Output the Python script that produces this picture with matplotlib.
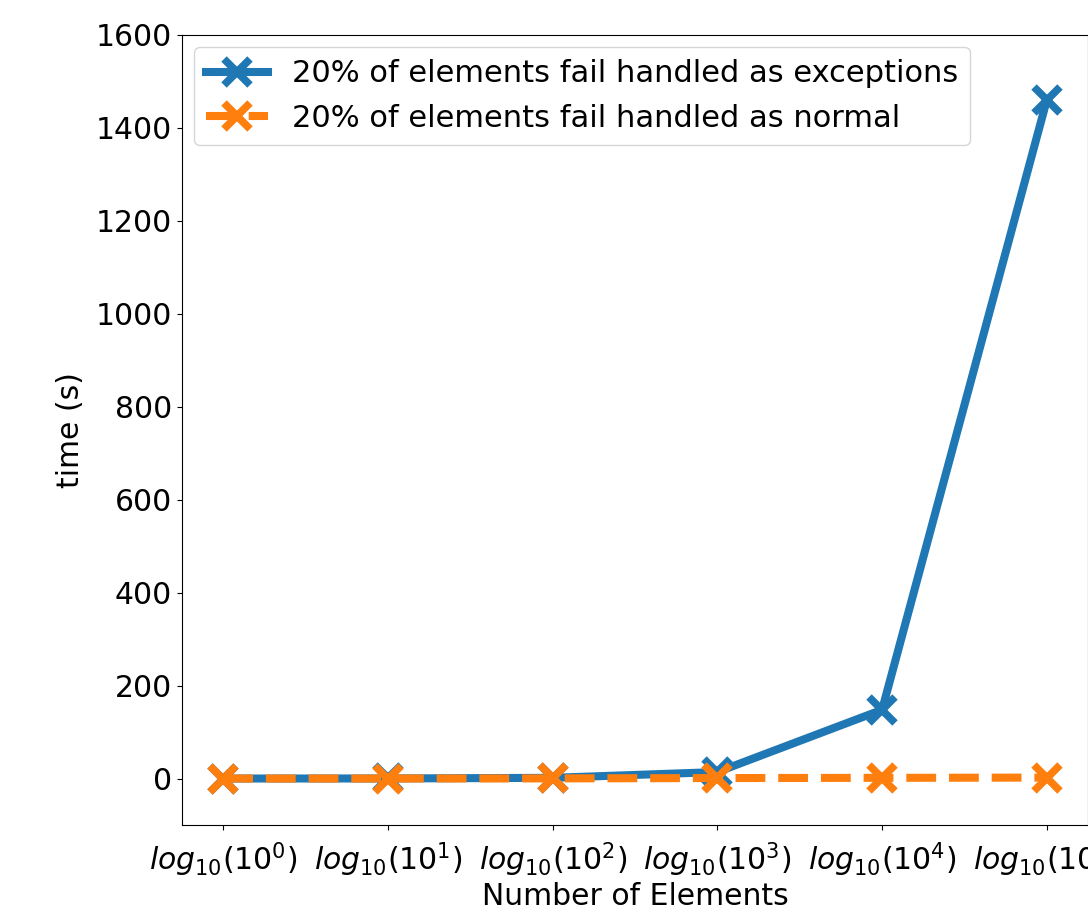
import matplotlib
matplotlib.use("Agg")
import matplotlib.pyplot as plt

x_labels = [r'$log_{10}(10^{0})$', r'$log_{10}(10^{1})$', r'$log_{10}(10^{2})$',
            r'$log_{10}(10^{3})$', r'$log_{10}(10^{4})$', r'$log_{10}(10^{5})$']
exceptions = [0.02, 0.15, 1.5, 14, 148, 1460]
normal = [0.01, 0.05, 0.3, 1.0, 1.5, 2.0]

plt.rcParams['font.size'] = 21.5
fig = plt.figure(figsize=(10.88, 9.11), dpi=100)
ax = fig.add_axes([0.1673, 0.0944, 0.8327, 0.8672])
x = list(range(len(x_labels)))
ax.plot(x, exceptions, '-x', color='#1f77b4', lw=5.8, ms=19, mew=5.5,
        label='20% of elements fail handled as exceptions')
ax.plot(x, normal, '--x', color='#ff7f0e', lw=5.8, ms=19, mew=5.5,
        label='20% of elements fail handled as normal')
ax.set_xticks(x)
ax.set_xticklabels(x_labels)
ax.tick_params(axis='x', pad=8)
ax.set_ylim(-100, 1600)
ax.set_xlim(-0.25, 5.25)
ax.set_xlabel('Number of Elements', labelpad=2)
ax.set_ylabel('time (s)', labelpad=8)
ax.legend(loc='upper left', borderaxespad=0.4, fontsize=22)
fig.savefig('out.png', dpi=100)
